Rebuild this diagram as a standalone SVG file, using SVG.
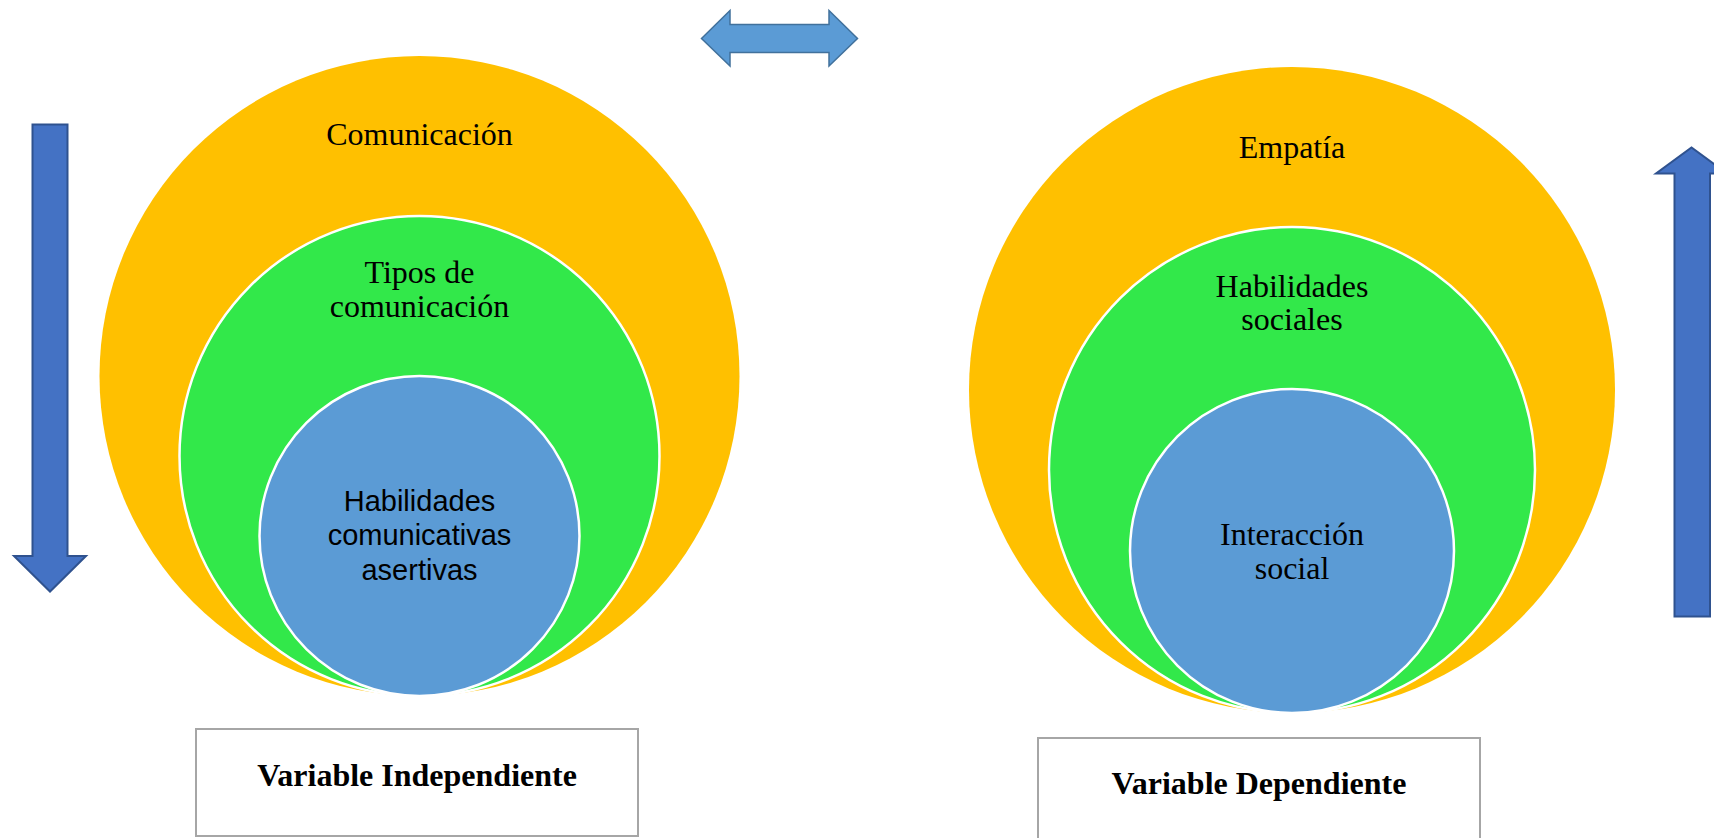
<svg xmlns="http://www.w3.org/2000/svg" width="1714" height="838" viewBox="0 0 1714 838">
<style>
.outer{fill:#FFC000;}
.mid{fill:#32E84A;stroke:#FFFFFF;stroke-width:2.5;}
.inner{fill:#5B9BD5;stroke:#FFFFFF;stroke-width:2.5;}
.serif{font-family:"Liberation Serif","Times New Roman",serif;font-size:32px;fill:#000;text-anchor:middle;}
.sans{font-family:"Liberation Sans",Arial,sans-serif;font-size:29px;fill:#000;text-anchor:middle;}
.bold{font-family:"Liberation Serif","Times New Roman",serif;font-size:32px;font-weight:bold;fill:#000;text-anchor:middle;}
.box{fill:#FFFFFF;stroke:#A6A6A6;stroke-width:2;}
.varrow{fill:#4472C4;stroke:#2F528F;stroke-width:2;}
.harrow{fill:#5B9BD5;stroke:#41719C;stroke-width:1.5;}
</style>
<rect width="1714" height="838" fill="#FFFFFF"/>
<g id="left-circles">
  <circle class="outer" cx="419.5" cy="376" r="320"/>
  <circle class="mid" cx="419.5" cy="456" r="240"/>
  <circle class="inner" cx="419.5" cy="536" r="160"/>
  <text class="serif" x="419.5" y="145">Comunicación</text>
  <text class="serif" x="419.5" y="283">Tipos de</text>
  <text class="serif" x="419.5" y="317">comunicación</text>
  <text class="sans" x="419.5" y="511">Habilidades</text>
  <text class="sans" x="419.5" y="545">comunicativas</text>
  <text class="sans" x="419.5" y="580">asertivas</text>
</g>
<g id="right-circles">
  <circle class="outer" cx="1292" cy="390" r="323"/>
  <circle class="mid" cx="1292" cy="470" r="243"/>
  <circle class="inner" cx="1292" cy="551" r="162"/>
  <text class="serif" x="1292" y="158">Empatía</text>
  <text class="serif" x="1292" y="297">Habilidades</text>
  <text class="serif" x="1292" y="330">sociales</text>
  <text class="serif" x="1292" y="545">Interacción</text>
  <text class="serif" x="1292" y="579">social</text>
</g>
<g id="box-independiente">
  <rect class="box" x="196" y="729" width="442" height="107"/>
  <text class="bold" x="417" y="786">Variable Independiente</text>
</g>
<g id="box-dependiente">
  <rect class="box" x="1038" y="738" width="442" height="110"/>
  <text class="bold" x="1259" y="794">Variable Dependiente</text>
</g>
<g id="connectors">
  <path class="harrow" d="M701.5,38.5 L730,10.5 L730,24.5 L829,24.5 L829,10.5 L857.5,38.5 L829,66 L829,52.5 L730,52.5 L730,66 Z"/>
  <path class="varrow" d="M32.5,124.5 L67.5,124.5 L67.5,556 L86,556 L50,591.5 L14,556 L32.5,556 Z"/>
  <path class="varrow" d="M1674.5,616.5 L1674.5,173.5 L1656,173.5 L1691.5,147.5 L1727,173.5 L1710,173.5 L1710,616.5 Z"/>
</g>
</svg>
